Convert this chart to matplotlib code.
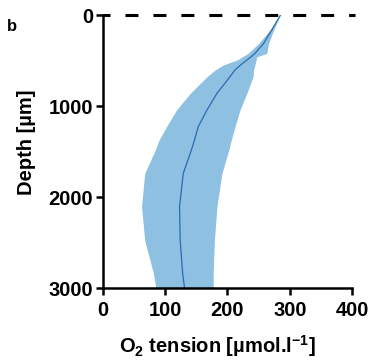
import matplotlib
matplotlib.use("Agg")
import matplotlib.pyplot as plt

plt.rcParams['font.family'] = ['Liberation Sans', 'DejaVu Sans']
plt.rcParams['font.weight'] = 'bold'
plt.rcParams['mathtext.fontset'] = 'custom'
plt.rcParams['mathtext.rm'] = 'Liberation Sans:bold'
plt.rcParams['mathtext.bf'] = 'Liberation Sans:bold'

# O2 profile: depth (um), mean and spread (umol/l)
depth = [0, 165, 311, 421, 458, 494, 549, 604, 678, 861, 1044, 1227, 1374, 1484, 1740, 2106, 2473, 2839, 3000]
o2_mean = [285, 271, 258, 244, 238, 231, 221, 212, 204, 183, 167, 153, 147, 142, 129, 123, 124, 128, 131]
o2_lower = [285, 268, 250, 233, 224, 215, 193, 180, 167, 140, 118, 102, 90, 84, 67, 62, 67, 81, 85]
o2_upper = [285, 274, 266, 263, 247, 246, 244, 242, 241, 231, 220, 212, 206, 202, 191, 183, 179, 177, 177]
xticks = [0, 100, 200, 300, 400]
yticks = [0, 1000, 2000, 3000]

fig = plt.figure(figsize=(3.69, 3.60), dpi=100)
ax = fig.add_axes([0.279, 0.2, 0.675, 0.758])

ax.fill_betweenx(depth, o2_lower, o2_upper, color='#8dc0e1', lw=0)
ax.plot(o2_mean, depth, color='#2b6cae', lw=0.9)
# dashed surface line
ax.plot([0, 404], [0, 0], color='black', lw=2.2, linestyle=(1.96, (4.25, 4.9)), clip_on=False)

ax.set_xlim(0, 400)
ax.set_ylim(3000, 0)
ax.set_xticks(xticks)
ax.set_yticks(yticks)
for s in ['top', 'right']:
    ax.spines[s].set_visible(False)
for s in ['left', 'bottom']:
    ax.spines[s].set_linewidth(1.8)
ax.tick_params(width=1.8, length=5, labelsize=14.5)
ax.tick_params(axis='x', pad=4)
ax.tick_params(axis='y', pad=2)

ax.set_xlabel(r'O$_{2}$ tension [µmol.l$^{-1}$]', fontsize=14.5, fontweight='bold')
ax.set_ylabel('Depth [µm]', fontsize=14.5, fontweight='bold')
ax.xaxis.set_label_coords(0.46, -0.165)
ax.yaxis.set_label_coords(-0.27, 0.535)
fig.text(0.019, 0.915, 'b', fontsize=12, fontweight='bold')

fig.savefig('out.png', dpi=100)
